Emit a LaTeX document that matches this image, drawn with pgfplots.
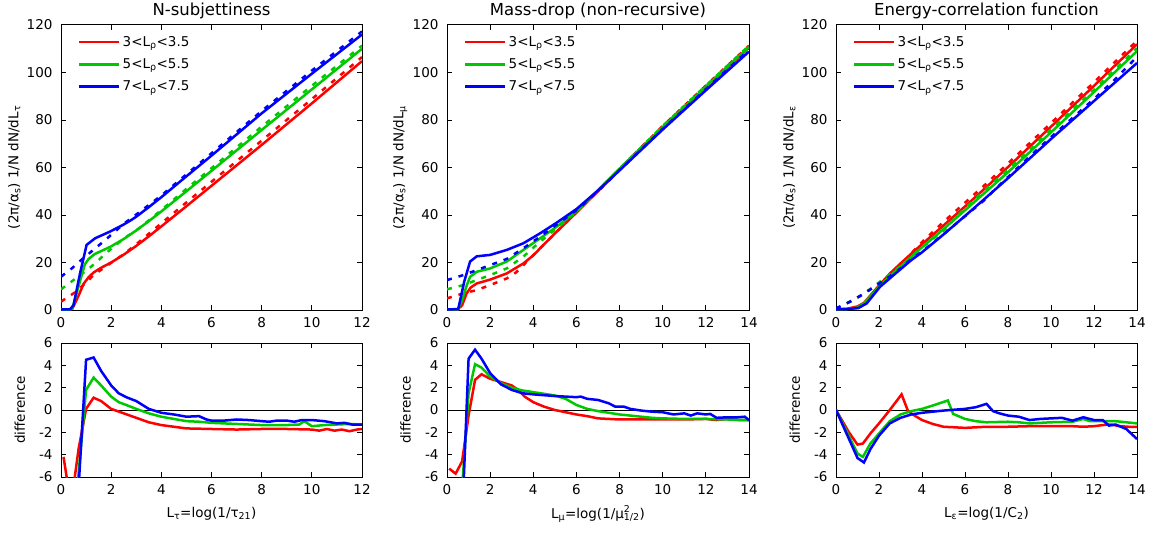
\documentclass[border=0pt]{standalone}
\usepackage{fontspec}
\setmainfont{DejaVu Sans}
\usepackage{pgfplots}
\pgfplotsset{compat=1.18}

\definecolor{cred}{RGB}{255,0,0}
\definecolor{cgreen}{RGB}{0,200,0}
\definecolor{cblue}{RGB}{0,0,255}

\pgfplotsset{
  base/.style={scale only axis, anchor=north west,
    font=\fontsize{13.5}{16}\selectfont,
    axis line style={line width=1pt}, every tick/.style={black, line width=1pt},
    major tick length=5pt, tick align=inside,
    xticklabel style={yshift=-4pt}, yticklabel style={xshift=-5pt},
    /pgf/number format/assume math mode=true},
  top/.style={base, height=285pt, ymin=0, ymax=120, ytick={0,20,...,120},
    title style={font=\fontsize{16.5}{19}\selectfont, yshift=-3.5pt},
    ylabel style={at={(axis description cs:-0.155,0.5)}, anchor=center},
    legend style={draw=none, fill=none, at={(0,1)}, anchor=north west,
      xshift=14pt, yshift=-7pt, row sep=7pt},
    legend cell align=left,
    legend image code/.code={\draw[#1, line width=2.5pt] (0pt,0pt) -- (40pt,0pt);}},
  bot/.style={base, height=134pt, ymin=-6, ymax=6, ytick={-6,-4,...,6},
    ylabel={difference},
    ylabel style={at={(axis description cs:-0.137,0.5)}, anchor=center},
    xlabel style={at={(axis description cs:0.5,0)}, anchor=center, yshift=-37pt}},
  sol/.style={line width=2.5pt},
  das/.style={line width=2.5pt, dash pattern=on 5pt off 7pt, forget plot},
}

\begin{document}
\begin{tikzpicture}[font=\fontsize{13.5}{16}\selectfont]
\useasboundingbox (0,0) rectangle (1158pt,-535pt);

% ---------- N-subjettiness ----------
\begin{axis}[top, at={(61pt,-25pt)}, width=301pt, xmin=0, xmax=12, xtick={0,2,...,12},
  title={N-subjettiness},
  ylabel={(2π/α\textsubscript{s}) 1/N dN/dL\textsubscript{τ}}]
\addplot[sol, cred] coordinates {(0,0.2) (0.3,0.2) (0.45,0.5) (0.7,6) (0.9,11) (1.1,13.8) (1.3,15.8) (1.6,17.8) (2,20) (2.5,23.3) (3,27) (3.5,31) (4,35.2) (5,43.7) (6,52.3) (8,69.5) (10,87) (12,104.8)};
\addlegendentry{3<L\textsubscript{ρ}<3.5}
\addplot[das, cred] coordinates {(0,3.5) (0.5,7) (1,11.5) (1.3,14.7) (2,19.9) (2.5,23.5) (3,27.7) (4,36.5) (5,45.3) (6,54) (8,71.3) (10,88.8) (12,106.5)};
\addplot[sol, cgreen] coordinates {(0,0.2) (0.35,0.2) (0.45,0.6) (0.7,10) (0.95,19.2) (1.1,21.5) (1.35,23.6) (1.7,25.3) (2,26.8) (2.5,29.9) (3,33.5) (3.5,37.4) (4,41.5) (5,50) (6,58.6) (8,75.8) (10,92.9) (12,110)};
\addlegendentry{5<L\textsubscript{ρ}<5.5}
\addplot[das, cgreen] coordinates {(0,8.7) (0.5,12.6) (1,16.5) (1.4,20) (1.8,24) (2.2,27.5) (2.6,30.8) (3,33.5) (3.5,37.7) (4,42.1) (5,51) (6,59.7) (8,77.2) (10,94.4) (12,111.3)};
\addplot[sol, cblue] coordinates {(0,0.2) (0.36,0.3) (0.5,2) (0.75,15) (1.02,27.4) (1.36,30.2) (1.95,33) (2.5,36) (2.82,38) (3,39.3) (3.5,43.3) (4,47.5) (5,56.3) (6,65) (7,73.9) (8,82.8) (10,99.5) (12,116)};
\addlegendentry{7<L\textsubscript{ρ}<7.5}
\addplot[das, cblue] coordinates {(0,14) (0.43,17.5) (0.8,21) (1.29,25.3) (1.69,28.8) (2.15,33) (2.5,36.3) (3,40.2) (3.5,44.2) (4,48.2) (5,57.1) (6,66) (8,83.8) (10,100.8) (12,117.3)};
\end{axis}

\begin{axis}[bot, at={(61pt,-343pt)}, width=301pt, xmin=0, xmax=12, xtick={0,2,...,12},
  xlabel={L\textsubscript{τ}=log(1/τ\textsubscript{21})}]
\addplot[black, line width=1pt] coordinates {(0,0) (12,0)};
\addplot[sol, cred] coordinates {(0.1,-4.2) (0.4,-8.5) (0.7,-3.5) (1.0,0.1) (1.3,1.1) (1.6,0.8) (2,0.1) (2.5,-0.3) (3,-0.7) (3.5,-1.1) (4,-1.35) (4.5,-1.5) (5,-1.65) (6,-1.7) (7,-1.75) (8,-1.7) (9,-1.7) (10,-1.75) (10.3,-1.85) (10.6,-1.7) (10.9,-1.85) (11.2,-1.75) (11.5,-1.9) (11.8,-1.75) (12,-1.7)};
\addplot[sol, cgreen] coordinates {(0.1,-15) (0.4,-15) (0.7,-5.7) (1.0,1.8) (1.3,2.9) (1.6,2.2) (2,1.2) (2.3,0.7) (2.6,0.45) (3,0.1) (3.5,-0.3) (4,-0.6) (4.5,-0.8) (5,-1.0) (5.5,-1.05) (6,-1.15) (7,-1.25) (8,-1.35) (9,-1.35) (9.5,-1.3) (9.7,-1.0) (10,-1.45) (10.5,-1.35) (11,-1.3) (11.5,-1.25) (12,-1.3)};
\addplot[sol, cblue] coordinates {(0.1,-18) (0.4,-18) (0.7,-7) (1.0,4.5) (1.3,4.7) (1.6,3.5) (2,2.2) (2.3,1.5) (2.6,1.15) (3,0.8) (3.5,0.1) (4,-0.25) (4.5,-0.4) (5,-0.6) (5.5,-0.55) (5.8,-0.85) (6,-0.95) (6.5,-0.95) (7,-0.85) (7.5,-0.9) (8,-1.0) (8.3,-1.05) (8.6,-0.95) (9,-0.95) (9.3,-1.05) (9.6,-0.9) (10,-0.9) (10.5,-1.0) (11,-1.2) (11.3,-1.15) (11.6,-1.3) (12,-1.3)};
\end{axis}

% ---------- Mass-drop ----------
\begin{axis}[top, at={(447pt,-25pt)}, width=302pt, xmin=0, xmax=14, xtick={0,2,...,14},
  title={Mass-drop (non-recursive)},
  ylabel={(2π/α\textsubscript{s}) 1/N dN/dL\textsubscript{μ}}]
\addplot[sol, cred] coordinates {(0,0.2) (0.5,0.3) (0.7,2) (0.91,7) (1.1,9.5) (1.38,11.2) (2,12.8) (2.77,15.4) (3.54,19.6) (4,23) (4.32,26) (5.09,33) (6,41) (7,50) (8,59.3) (9,68) (10,76.8) (11,85.3) (12,93.8) (13,102) (14,110.5)};
\addlegendentry{3<L\textsubscript{ρ}<3.5}
\addplot[das, cred] coordinates {(0,4.9) (0.5,6.3) (0.76,7) (1.38,8.4) (2,10.5) (2.77,13.3) (3.2,15.8) (3.54,18.9) (4.32,26) (5.09,33) (6,41.3) (7,50.3) (8,59.5) (10,77.5) (12,94.5) (14,111.3)};
\addplot[sol, cgreen] coordinates {(0,0.2) (0.5,0.3) (0.7,4) (0.9,10) (1.07,14) (1.38,16.1) (2,17.5) (2.77,20.4) (3.54,25.3) (4.32,30.2) (5.09,35.1) (6,41.6) (7,50.5) (8,59.5) (10,77) (12,94) (14,110.8)};
\addlegendentry{5<L\textsubscript{ρ}<5.5}
\addplot[das, cgreen] coordinates {(0,8.7) (0.76,10.5) (1.38,12.6) (2,14.7) (2.77,17.5) (3.54,22.5) (4.32,28.8) (5.09,34.4) (6,41.3) (7,50.4) (8,59.6) (10,77.5) (12,94.5) (14,111.3)};
\addplot[sol, cblue] coordinates {(0,0.2) (0.52,0.4) (0.8,12) (1.07,20.4) (1.38,22.6) (2,23.2) (2.77,25.3) (3.54,28.1) (4.32,32.3) (5.09,36.8) (6,42.5) (7,50.3) (8,58.8) (10,76) (12,92.5) (14,108.8)};
\addlegendentry{7<L\textsubscript{ρ}<7.5}
\addplot[das, cblue] coordinates {(0,12.6) (0.76,14.7) (1.38,16.8) (2,18.9) (2.77,21.5) (3.54,26) (4.32,30.9) (5.09,36) (6,42) (7,50) (8,58.9) (10,76.2) (12,93) (14,109.6)};
\end{axis}

\begin{axis}[bot, at={(447pt,-343pt)}, width=302pt, xmin=0, xmax=14, xtick={0,2,...,14},
  xlabel={L\textsubscript{μ}=log(1/μ\rlap{\textsuperscript{2}}\textsubscript{1/2})}]
\addplot[black, line width=1pt] coordinates {(0,0) (14,0)};
\addplot[sol, cred] coordinates {(0.1,-5.25) (0.4,-5.7) (0.7,-4.6) (1.0,-0.5) (1.3,2.7) (1.6,3.2) (2,2.8) (2.5,2.5) (3,2.2) (3.3,1.8) (3.6,1.2) (4,0.7) (4.5,0.3) (5,0.0) (5.5,-0.2) (6,-0.4) (6.5,-0.55) (7,-0.75) (8,-0.85) (9,-0.85) (10,-0.85) (11,-0.85) (12,-0.8) (12.5,-0.9) (13,-0.8) (13.5,-0.9) (14,-0.9)};
\addplot[sol, cgreen] coordinates {(0.1,-15) (0.4,-15) (0.7,-7) (1.0,1.5) (1.3,4.1) (1.6,3.8) (2,3.0) (2.5,2.4) (3,2.0) (3.5,1.75) (4,1.6) (4.5,1.45) (5,1.3) (5.5,1.0) (6,0.45) (6.5,0.1) (7,-0.1) (7.5,-0.25) (8,-0.4) (8.5,-0.5) (9,-0.6) (9.5,-0.7) (10,-0.75) (11,-0.8) (12,-0.8) (13,-0.85) (14,-0.9)};
\addplot[sol, cblue] coordinates {(0.1,-18) (0.4,-18) (0.7,-10) (1.0,4.6) (1.3,5.4) (1.6,4.6) (2,3.3) (2.5,2.3) (3,1.8) (3.5,1.5) (4,1.4) (5,1.25) (5.5,1.2) (6,1.15) (6.2,1.2) (6.5,1.0) (7,0.9) (7.5,0.6) (7.8,0.3) (8.2,0.3) (8.5,0.1) (9,-0.05) (9.5,-0.15) (10,-0.2) (10.5,-0.4) (11,-0.3) (11.3,-0.5) (11.6,-0.3) (12,-0.4) (12.2,-0.35) (12.5,-0.7) (13,-0.65) (13.5,-0.65) (13.8,-0.6) (14,-0.9)};
\end{axis}

% ---------- Energy-correlation function ----------
\begin{axis}[top, at={(836pt,-25pt)}, width=301pt, xmin=0, xmax=14, xtick={0,2,...,14},
  title={Energy-correlation function},
  ylabel={(2π/α\textsubscript{s}) 1/N dN/dL\textsubscript{ε}}]
\addplot[sol, cred] coordinates {(0,0.3) (0.5,0.5) (1,1.5) (1.3,3) (2,10.3) (2.5,15.3) (3,19.6) (3.5,23.7) (4,27.7) (5,35.6) (6,43.6) (7,51.8) (8,60.2) (10,77.2) (12,94.4) (14,111.9)};
\addlegendentry{3<L\textsubscript{ρ}<3.5}
\addplot[das, cred] coordinates {(0,0.5) (0.65,3.5) (1.12,5.9) (1.67,9.1) (2.2,12.3) (2.6,14.8) (3.05,18.6) (3.36,22.6) (4,28.6) (5,37.1) (6,45.2) (7,53.3) (8,61.7) (10,78.7) (12,95.9) (14,113.4)};
\addplot[sol, cgreen] coordinates {(0,0.3) (0.5,0.4) (1,1) (1.3,2.8) (2,9.7) (2.5,14.2) (3,18.3) (3.5,22.3) (4,26.4) (5,34.1) (6,42) (7,50) (8,58) (10,74.8) (12,91.8) (14,109)};
\addlegendentry{5<L\textsubscript{ρ}<5.5}
\addplot[das, cgreen] coordinates {(0,0.5) (0.65,3.5) (1.12,5.9) (1.67,9.3) (2.2,13) (2.77,16.8) (3.5,22.4) (4,26.3) (5.2,34.9) (5.45,38) (6,42.8) (7,51.1) (8,59.1) (10,75.9) (12,92.8) (14,110.2)};
\addplot[sol, cblue] coordinates {(0,0.3) (0.5,0.4) (1.04,0.8) (1.43,2.8) (2.05,9.8) (2.77,15.4) (3.5,21) (4,24.3) (5,31.8) (6,39.6) (7,47.5) (8,55.5) (10,72) (12,88) (14,104)};
\addlegendentry{7<L\textsubscript{ρ}<7.5}
\addplot[das, cblue] coordinates {(0,0.7) (0.65,3.5) (1.12,5.9) (1.67,9.1) (2.2,12.3) (2.77,15.8) (3.5,21.4) (4,24.6) (5,31.9) (6,39.5) (7,47) (7.3,50) (8,56) (9,64.6) (10,72.8) (12,88.9) (13,97.3) (14,106.6)};
\end{axis}

\begin{axis}[bot, at={(836pt,-343pt)}, width=301pt, xmin=0, xmax=14, xtick={0,2,...,14},
  xlabel={L\textsubscript{ε}=log(1/C\textsubscript{2})}]
\addplot[black, line width=1pt] coordinates {(0,0) (14,0)};
\addplot[sol, cred] coordinates {(0,0) (0.3,-1) (0.6,-2) (1.0,-3.1) (1.25,-3.0) (1.6,-2.1) (2,-1.2) (2.5,0) (3.05,1.4) (3.35,-0.1) (3.7,-0.55) (4,-0.9) (4.5,-1.25) (5,-1.5) (5.5,-1.55) (6,-1.6) (6.5,-1.55) (7,-1.5) (8,-1.5) (9,-1.45) (10,-1.45) (11,-1.45) (11.5,-1.5) (12,-1.45) (12.4,-1.35) (12.8,-1.3) (13.2,-1.45) (13.6,-1.5) (14,-1.5)};
\addplot[sol, cgreen] coordinates {(0,0) (1.0,-3.9) (1.25,-4.2) (1.6,-3.0) (2,-2.1) (2.5,-1.0) (3,-0.4) (3.5,-0.1) (4,0.1) (4.5,0.4) (5.2,0.85) (5.45,-0.35) (6,-0.8) (6.5,-1.0) (7,-1.1) (8,-1.05) (8.5,-1.1) (9,-1.2) (10,-1.1) (11,-1.05) (11.5,-0.8) (11.8,-1.0) (12.5,-1.0) (13,-1.0) (13.5,-1.1) (14,-1.2)};
\addplot[sol, cblue] coordinates {(0,0) (1.0,-4.3) (1.3,-4.7) (1.6,-3.5) (2,-2.3) (2.5,-1.2) (3,-0.7) (3.5,-0.4) (4,-0.25) (5,-0.05) (6,0.1) (6.5,0.25) (7.0,0.55) (7.3,-0.1) (7.6,-0.3) (8,-0.5) (8.5,-0.6) (9,-0.9) (9.5,-0.8) (10,-0.75) (10.5,-0.7) (11,-0.95) (11.5,-0.65) (12,-0.9) (12.4,-0.9) (12.7,-1.4) (13,-1.3) (13.5,-1.7) (14,-2.6)};
\end{axis}
\end{tikzpicture}
\end{document}
